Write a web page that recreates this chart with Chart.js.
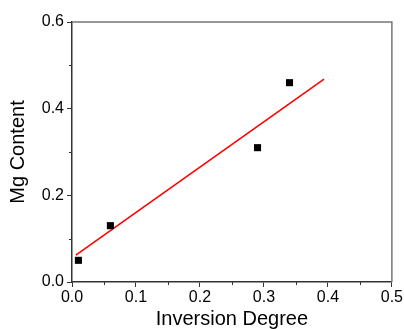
<!DOCTYPE html>
<html>
<head>
<meta charset="utf-8">
<script src="https://cdn.jsdelivr.net/npm/chart.js@4.4.1/dist/chart.umd.min.js"></script>
<style>
html,body{margin:0;padding:0;background:#fff;}
#wrap{width:404px;height:329px;}
</style>
</head>
<body>
<div id="wrap"><canvas id="c" width="404" height="329"></canvas></div>
<script>
const inversionDegree = [0.01, 0.06, 0.29, 0.34];
const mgContent = [0.05, 0.13, 0.31, 0.46];
const fitX = [0.006, 0.394];
const fitY = [0.062, 0.468];
const xMinorTicks = [0.05, 0.15, 0.25, 0.35, 0.45];
const yMinorTicks = [0.1, 0.3, 0.5];
const xTitle = 'Inversion Degree';
const yTitle = 'Mg Content';

const FONT = 'Liberation Sans, Arial, sans-serif';

const framePlugin = {
  id: 'frame',
  beforeDraw(chart) {
    const ctx = chart.ctx;
    ctx.save();
    ctx.fillStyle = '#ffffff';
    ctx.fillRect(0, 0, chart.width, chart.height);
    ctx.restore();
  },
  afterDraw(chart) {
    const {ctx, chartArea: a, scales} = chart;
    ctx.save();
    ctx.strokeStyle = '#777';
    ctx.lineWidth = 1.5;
    ctx.beginPath();
    ctx.moveTo(a.left, a.top);
    ctx.lineTo(a.right, a.top);
    ctx.lineTo(a.right, a.bottom);
    ctx.stroke();
    ctx.strokeStyle = '#333';
    ctx.lineWidth = 1;
    ctx.beginPath();
    xMinorTicks.forEach(v => {
      const px = Math.round(scales.x.getPixelForValue(v)) + 0.5;
      ctx.moveTo(px, a.bottom);
      ctx.lineTo(px, a.bottom + 3);
    });
    yMinorTicks.forEach(v => {
      const py = Math.round(scales.y.getPixelForValue(v)) + 0.5;
      ctx.moveTo(a.left, py);
      ctx.lineTo(a.left - 3, py);
    });
    ctx.stroke();
    ctx.restore();
  }
};

new Chart(document.getElementById('c'), {
  type: 'scatter',
  data: {
    datasets: [
      {
        label: 'Data',
        data: inversionDegree.map((x, i) => ({x, y: mgContent[i]})),
        pointStyle: 'rect',
        pointRadius: 5,
        pointBorderWidth: 0,
        backgroundColor: '#000',
        borderColor: '#000',
        showLine: false,
        order: 0
      },
      {
        label: 'Fit',
        data: fitX.map((x, i) => ({x, y: fitY[i]})),
        showLine: true,
        borderColor: '#ff0000',
        borderWidth: 1.6,
        pointRadius: 0,
        fill: false,
        order: 1
      }
    ]
  },
  options: {
    responsive: false,
    animation: false,
    devicePixelRatio: 1,
    layout: {padding: {top: 22, right: 12, left: 6, bottom: 0}},
    plugins: {legend: {display: false}, tooltip: {enabled: false}},
    scales: {
      x: {
        type: 'linear',
        min: 0, max: 0.5,
        afterFit(s) { s.height = 47; },
        border: {display: true, color: '#333', width: 1.5},
        grid: {drawOnChartArea: false, drawTicks: true, tickLength: 5, color: '#333', tickWidth: 1},
        ticks: {stepSize: 0.1, padding: 1, color: '#000', font: {family: FONT, size: 16},
          callback: v => v.toFixed(1), maxRotation: 0},
        title: {display: true, text: xTitle, color: '#000', font: {family: FONT, size: 20}, padding: {top: 0, bottom: -2}}
      },
      y: {
        type: 'linear',
        min: 0, max: 0.6,
        afterFit(s) { s.width = 66; },
        border: {display: true, color: '#333', width: 1.5},
        grid: {drawOnChartArea: false, drawTicks: true, tickLength: 5, color: '#333', tickWidth: 1},
        ticks: {stepSize: 0.2, padding: 3, color: '#000', font: {family: FONT, size: 16},
          callback: v => v.toFixed(1)},
        title: {display: true, text: yTitle, color: '#000', font: {family: FONT, size: 20}, padding: {top: 0, bottom: 0}}
      }
    }
  },
  plugins: [framePlugin]
});
</script>
</body>
</html>
